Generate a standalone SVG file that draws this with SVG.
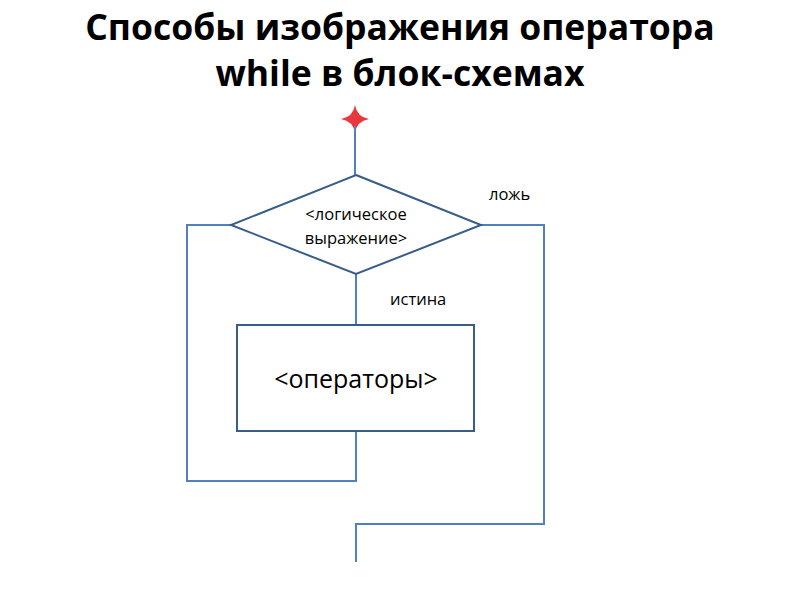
<svg xmlns="http://www.w3.org/2000/svg" width="800" height="600" viewBox="0 0 800 600">
<style>
.t{font-family:"Open Sans","Noto Sans",sans-serif;fill:#000}
.title{font-size:35.5px;font-weight:bold}
.c{fill:none;stroke:#4f81bd;stroke-width:2}
.n{fill:#fff;stroke:#385d8a;stroke-width:2}
.s{font-size:16.5px}
</style>
<rect width="800" height="600" fill="#fff"/>
<text class="t title" x="400" y="40" text-anchor="middle">Способы изображения оператора</text>
<text class="t title" x="400" y="86" text-anchor="middle">while в блок-схемах</text>
<g id="start">
<path d="M355,105 Q357,117 369,119 Q357,121 355,133 Q353,121 341,119 Q353,117 355,105 Z" fill="#e8383d"/>
</g>
<g id="connectors">
<path class="c" d="M355,126 V175"/>
<path class="c" d="M356,274 V325"/>
<path class="c" d="M356,431 V481 H187 V225 H231"/>
<path class="c" d="M481,225 H544 V524 H356 V562"/>
</g>
<g id="cond">
<polygon class="n" points="356,175 481,225 356,274 231,225"/>
<text class="t s" x="356" y="220" text-anchor="middle">&lt;логическое</text>
<text class="t s" x="356" y="244" text-anchor="middle">выражение&gt;</text>
</g>
<g id="ops">
<rect class="n" x="237" y="325" width="237" height="106"/>
<text class="t" font-size="25" x="356" y="388" text-anchor="middle">&lt;операторы&gt;</text>
</g>
<text class="t s" x="489" y="200">ложь</text>
<text class="t s" x="390" y="305">истина</text>
</svg>
